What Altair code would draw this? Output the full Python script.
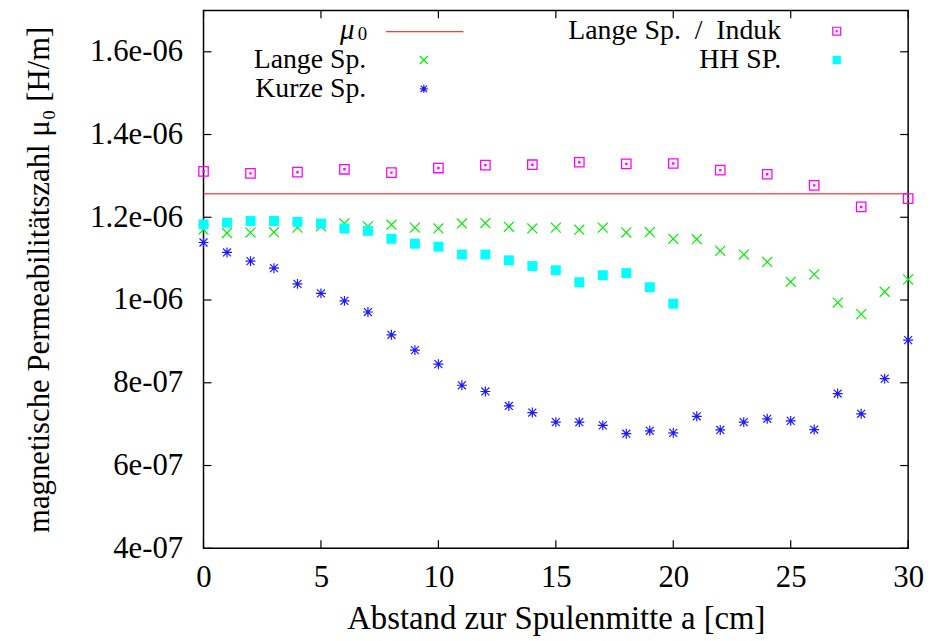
import altair as alt
import pandas as pd

# ---------------- data ----------------
x_lange = [0, 1, 2, 3, 4, 5, 6, 7, 8, 9, 10, 11, 12, 13, 14, 15, 16, 17, 18, 19, 20,
           21, 22, 23, 24, 25, 26, 27, 28, 29, 30]
lange = [1.170e-6, 1.162e-6, 1.163e-6, 1.164e-6, 1.175e-6, 1.178e-6, 1.185e-6, 1.178e-6,
         1.182e-6, 1.175e-6, 1.173e-6, 1.185e-6, 1.186e-6, 1.177e-6, 1.173e-6, 1.175e-6,
         1.170e-6, 1.175e-6, 1.163e-6, 1.164e-6, 1.148e-6, 1.147e-6, 1.119e-6, 1.110e-6,
         1.092e-6, 1.044e-6, 1.062e-6, 0.994e-6, 0.966e-6, 1.020e-6, 1.050e-6]

x_kurze = [0, 1, 2, 3, 4, 5, 6, 7, 8, 9, 10, 11, 12, 13, 14, 15, 16, 17, 18, 19, 20,
           21, 22, 23, 24, 25, 26, 27, 28, 29, 30]
kurze = [1.139e-6, 1.115e-6, 1.094e-6, 1.077e-6, 1.039e-6, 1.016e-6, 0.998e-6, 0.971e-6,
         0.916e-6, 0.879e-6, 0.845e-6, 0.794e-6, 0.779e-6, 0.744e-6, 0.728e-6, 0.705e-6,
         0.705e-6, 0.697e-6, 0.677e-6, 0.684e-6, 0.679e-6, 0.719e-6, 0.686e-6, 0.705e-6,
         0.713e-6, 0.708e-6, 0.687e-6, 0.774e-6, 0.725e-6, 0.810e-6, 0.903e-6]

x_induk = [0, 2, 4, 6, 8, 10, 12, 14, 16, 18, 20, 22, 24, 26, 28, 30]
induk = [1.311e-6, 1.306e-6, 1.309e-6, 1.316e-6, 1.308e-6, 1.319e-6, 1.326e-6, 1.327e-6,
         1.333e-6, 1.329e-6, 1.330e-6, 1.314e-6, 1.304e-6, 1.277e-6, 1.225e-6, 1.245e-6]

x_hh = [0, 1, 2, 3, 4, 5, 6, 7, 8, 9, 10, 11, 12, 13, 14, 15, 16, 17, 18, 19, 20]
hh = [1.183e-6, 1.187e-6, 1.191e-6, 1.191e-6, 1.189e-6, 1.185e-6, 1.173e-6, 1.167e-6,
      1.148e-6, 1.136e-6, 1.129e-6, 1.110e-6, 1.110e-6, 1.096e-6, 1.082e-6, 1.072e-6,
      1.043e-6, 1.060e-6, 1.065e-6, 1.031e-6, 0.991e-6]

mu0 = [1.2566e-6]

x_ticks = [0, 5, 10, 15, 20, 25, 30]
y_ticks = [4e-7, 6e-7, 8e-7, 1.0e-6, 1.2e-6, 1.4e-6, 1.6e-6]

legend_labels = ["Lange Sp.", "Kurze Sp.", "Lange Sp.\u2002/\u2002Induk", "HH SP."]

# ---------------- style ----------------
W, H = 710, 542
FONT = "Liberation Serif"
FS = 31
LFS = 28
XPATH = "M-1,-1L1,1M-1,1L1,-1"
STAR = "M-1,0L1,0M0,-1L0,1M-0.8,-0.8L0.8,0.8M-0.8,0.8L0.8,-0.8"
BOX = "M-1,-1L1,-1L1,1L-1,1Z M-0.12,-0.12L0.12,-0.12L0.12,0.12L-0.12,0.12Z"
GREEN, BLUE, MAG, CYAN, RED = "#00ee00", "#1a1aff", "#ff00ff", "#00ffff", "#ff0000"

xs = alt.Scale(domain=[0, 30], nice=False, zero=False)
ys = alt.Scale(domain=[4e-7, 1.7e-6], nice=False, zero=False)

df_lange = pd.DataFrame({"x": x_lange, "y": lange})
df_kurze = pd.DataFrame({"x": x_kurze, "y": kurze})
df_induk = pd.DataFrame({"x": x_induk, "y": induk})
df_hh = pd.DataFrame({"x": x_hh, "y": hh})
df_mu = pd.DataFrame({"y": mu0})
one = pd.DataFrame({"a": [0]})

X_TITLE = "Abstand zur Spulenmitte a [cm]"
Y_TITLE = "magnetische Permeabilitätszahl μ₀ [H/m]"

x_axis = alt.Axis(values=x_ticks, title=X_TITLE, ticks=False,
                  domain=False, grid=False, labelFlush=False, labelPadding=14,
                  labelFontSize=FS, labelFont=FONT, labelColor="black",
                  titleFont=FONT, titleFontSize=33, titleFontWeight="normal",
                  titleColor="black", titlePadding=11)
y_axis = alt.Axis(values=y_ticks, title=Y_TITLE,
                  ticks=False, domain=False, grid=False, labelFlush=False, labelPadding=21,
                  labelFontSize=FS, labelFont=FONT, labelColor="black",
                  labelExpr="datum.value < 9.9e-7 ? format(datum.value*1e7, '.6~g') + 'e-07' : format(datum.value*1e6, '.6~g') + 'e-06'",
                  titleFont=FONT, titleFontSize=31, titleFontWeight="normal",
                  titleColor="black", titlePadding=34)

def X(field):
    return alt.X(field, scale=xs, axis=x_axis, title=X_TITLE)

def Y(field):
    return alt.Y(field, scale=ys, axis=y_axis, title=Y_TITLE)

mu_line = alt.Chart(df_mu).mark_rule(color=RED, strokeWidth=1).encode(y=Y("y:Q"))

p_lange = alt.Chart(df_lange).mark_point(shape=XPATH, filled=False, color=GREEN,
                                         strokeWidth=1.2, size=100, opacity=1).encode(
    x=X("x:Q"), y=Y("y:Q"))
p_kurze = alt.Chart(df_kurze).mark_point(shape=STAR, filled=False, color=BLUE,
                                         strokeWidth=1.2, size=100, opacity=1).encode(
    x=X("x:Q"), y=Y("y:Q"))
p_induk = alt.Chart(df_induk).mark_point(shape=BOX, filled=False, color=MAG,
                                         strokeWidth=1.3, size=90, opacity=1).encode(
    x=X("x:Q"), y=Y("y:Q"))
p_hh = alt.Chart(df_hh).mark_point(shape="square", filled=True, color=CYAN,
                                   size=100, opacity=1).encode(
    x=X("x:Q"), y=Y("y:Q"))

# inward ticks (gnuplot style, mirrored)
df_xt = pd.DataFrame({"x": x_ticks})
df_yt = pd.DataFrame({"y": y_ticks})
TL = 8
tick_style = dict(color="black", strokeWidth=1.2)
t_bottom = alt.Chart(df_xt).mark_rule(**tick_style).encode(
    x=X("x:Q"), y=alt.value(H), y2=alt.value(H - TL))
t_top = alt.Chart(df_xt).mark_rule(**tick_style).encode(
    x=X("x:Q"), y=alt.value(0), y2=alt.value(TL))
t_left = alt.Chart(df_yt).mark_rule(**tick_style).encode(
    y=Y("y:Q"), x=alt.value(0), x2=alt.value(TL))
t_right = alt.Chart(df_yt).mark_rule(**tick_style).encode(
    y=Y("y:Q"), x=alt.value(W - TL), x2=alt.value(W))

# legend (gnuplot style: label right-aligned, sample to its right)
def ltext(txt, x, y, size=LFS, style="normal"):
    return alt.Chart(one).mark_text(text=txt, font=FONT, fontSize=size, fontStyle=style,
                                    align="right", baseline="middle", color="black").encode(
        x=alt.value(x), y=alt.value(y))

def lsym(x, y, **kw):
    return alt.Chart(one).mark_point(opacity=1, **kw).encode(x=alt.value(x), y=alt.value(y))

LX1, LS1, LX2, LS2 = 164, 222, 582, 638
R1, R2, R3 = 21, 50, 79
leg = [
    ltext("μ", 152, R1 - 1, size=29, style="italic"),
    ltext("0", 165, R1 + 3, size=19),
    alt.Chart(one).mark_rule(color=RED, strokeWidth=1).encode(
        x=alt.value(184), x2=alt.value(262), y=alt.value(R1 + 0.5)),
    ltext(legend_labels[0], LX1, R2),
    lsym(LS1, R2, shape=XPATH, filled=False, color=GREEN, strokeWidth=1.2, size=64),
    ltext(legend_labels[1], LX1, R3),
    lsym(LS1, R3, shape=STAR, filled=False, color=BLUE, strokeWidth=1.2, size=64),
    ltext(legend_labels[2], LX2, R1),
    lsym(LS2, R1, shape=BOX, filled=False, color=MAG, strokeWidth=1.2, size=64),
    ltext(legend_labels[3], LX2, R2),
    lsym(LS2, R2, shape="square", filled=True, color=CYAN, size=70),
]

chart = alt.layer(
    mu_line, p_lange, p_kurze, p_induk, p_hh, t_bottom, t_top, t_left, t_right, *leg
).properties(
    width=W, height=H, autosize="none",
    padding={"left": 197, "top": 0, "right": 20, "bottom": 90},
    background="white",
).configure_view(stroke="black", strokeWidth=1.5)

chart.save("out.html", embed_options={"renderer": "svg", "actions": False})
